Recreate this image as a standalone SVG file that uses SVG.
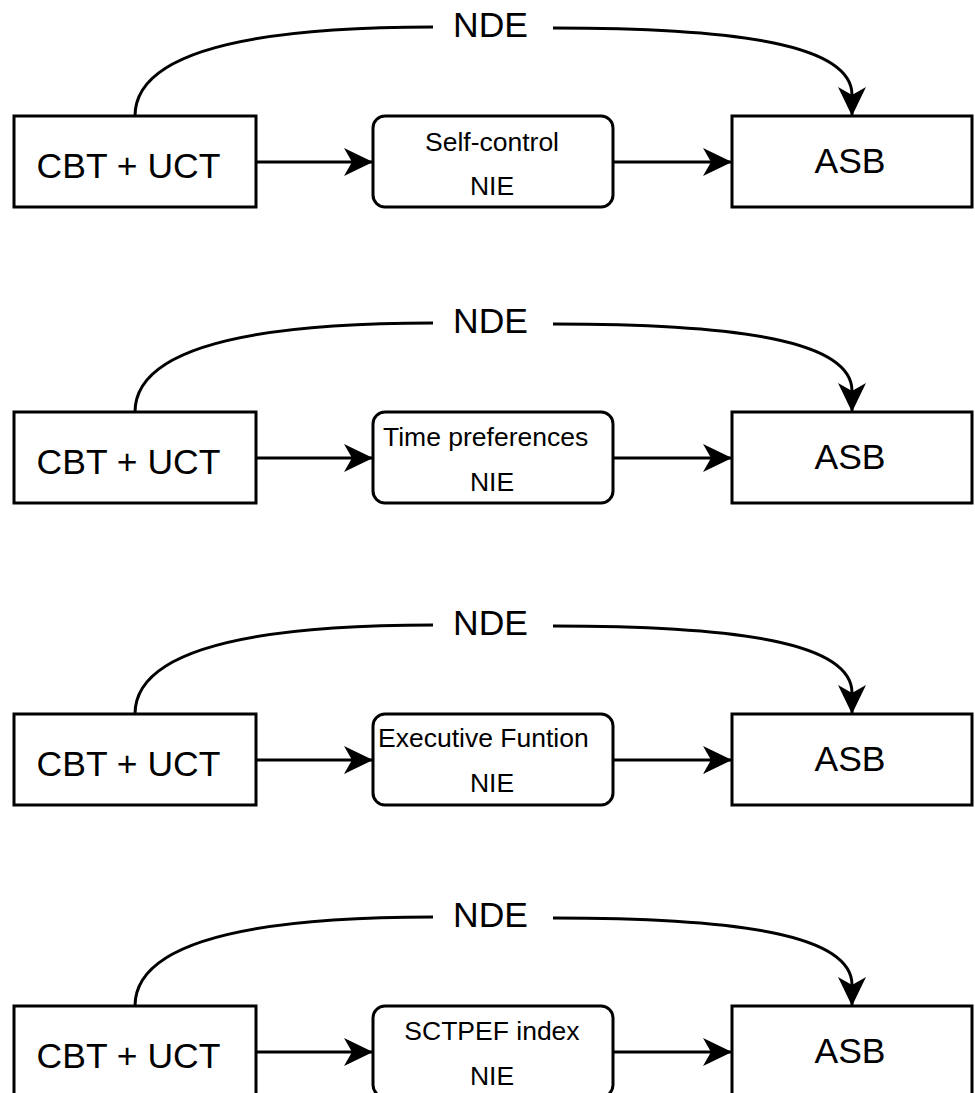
<svg xmlns="http://www.w3.org/2000/svg" width="975" height="1093" viewBox="0 0 975 1093">
<style>
.box{fill:#fff;stroke:#000;stroke-width:3}
.ln{fill:none;stroke:#000;stroke-width:3}
.big{font-family:"Liberation Sans",Arial,sans-serif;font-size:35.5px;fill:#000}
.sm{font-family:"Liberation Sans",Arial,sans-serif;font-size:26.5px;fill:#000}
</style>
<defs>
<marker id="arr" markerUnits="userSpaceOnUse" markerWidth="34" markerHeight="34" viewBox="-32 -17 34 34" refX="0" refY="0" orient="auto" overflow="visible">
<path d="M1,0 L-28,-14 L-20,0 L-28,14 Z" fill="#000"/>
</marker>
</defs>
<rect width="975" height="1093" fill="#fff"/>

<g id="panel1">
<g id="p1-cbt"><rect class="box" x="14" y="116" width="242" height="91"/><text class="big" x="128.5" y="178" text-anchor="middle">CBT + UCT</text></g>
<g id="p1-med"><rect class="box" x="373" y="116" width="240" height="91" rx="12"/><text class="sm" x="492" y="151" text-anchor="middle">Self-control</text><text class="sm" x="492" y="195" text-anchor="middle">NIE</text></g>
<g id="p1-asb"><rect class="box" x="732" y="116" width="240" height="91"/><text class="big" x="850" y="173" text-anchor="middle">ASB</text></g>
<g id="p1-conn">
<path class="ln" d="M256,162 L372,162" marker-end="url(#arr)"/>
<path class="ln" d="M613,162 L731,162" marker-end="url(#arr)"/>
<path class="ln" d="M135,116 C135,40 300,27 433,27"/>
<path class="ln" d="M553,28 C740,28 852,45 852,95 L852,115" marker-end="url(#arr)"/>
<text class="big" x="490.5" y="37" text-anchor="middle">NDE</text>
</g>
</g>

<g id="panel2" transform="translate(0,296)">
<g id="p2-cbt"><rect class="box" x="14" y="116" width="242" height="91"/><text class="big" x="128.5" y="178" text-anchor="middle">CBT + UCT</text></g>
<g id="p2-med"><rect class="box" x="373" y="116" width="240" height="91" rx="12"/><text class="sm" x="383" y="150">Time preferences</text><text class="sm" x="492" y="195" text-anchor="middle">NIE</text></g>
<g id="p2-asb"><rect class="box" x="732" y="116" width="240" height="91"/><text class="big" x="850" y="173" text-anchor="middle">ASB</text></g>
<g id="p2-conn">
<path class="ln" d="M256,162 L372,162" marker-end="url(#arr)"/>
<path class="ln" d="M613,162 L731,162" marker-end="url(#arr)"/>
<path class="ln" d="M135,116 C135,40 300,27 433,27"/>
<path class="ln" d="M553,28 C740,28 852,45 852,95 L852,115" marker-end="url(#arr)"/>
<text class="big" x="490.5" y="37" text-anchor="middle">NDE</text>
</g>
</g>

<g id="panel3" transform="translate(0,598)">
<g id="p3-cbt"><rect class="box" x="14" y="116" width="242" height="91"/><text class="big" x="128.5" y="178" text-anchor="middle">CBT + UCT</text></g>
<g id="p3-med"><rect class="box" x="373" y="116" width="240" height="91" rx="12"/><text class="sm" x="378" y="149">Executive Funtion</text><text class="sm" x="492" y="194" text-anchor="middle">NIE</text></g>
<g id="p3-asb"><rect class="box" x="732" y="116" width="240" height="91"/><text class="big" x="850" y="173" text-anchor="middle">ASB</text></g>
<g id="p3-conn">
<path class="ln" d="M256,162 L372,162" marker-end="url(#arr)"/>
<path class="ln" d="M613,162 L731,162" marker-end="url(#arr)"/>
<path class="ln" d="M135,116 C135,40 300,27 433,27"/>
<path class="ln" d="M553,28 C740,28 852,45 852,95 L852,115" marker-end="url(#arr)"/>
<text class="big" x="490.5" y="37" text-anchor="middle">NDE</text>
</g>
</g>

<g id="panel4" transform="translate(0,890)">
<g id="p4-cbt"><rect class="box" x="14" y="116" width="242" height="91"/><text class="big" x="128.5" y="178" text-anchor="middle">CBT + UCT</text></g>
<g id="p4-med"><rect class="box" x="373" y="116" width="240" height="91" rx="12"/><text class="sm" x="492" y="150" text-anchor="middle">SCTPEF index</text><text class="sm" x="492" y="195" text-anchor="middle">NIE</text></g>
<g id="p4-asb"><rect class="box" x="732" y="116" width="240" height="91"/><text class="big" x="850" y="173" text-anchor="middle">ASB</text></g>
<g id="p4-conn">
<path class="ln" d="M256,162 L372,162" marker-end="url(#arr)"/>
<path class="ln" d="M613,162 L731,162" marker-end="url(#arr)"/>
<path class="ln" d="M135,116 C135,40 300,27 433,27"/>
<path class="ln" d="M553,28 C740,28 852,45 852,95 L852,115" marker-end="url(#arr)"/>
<text class="big" x="490.5" y="37" text-anchor="middle">NDE</text>
</g>
</g>
</svg>
